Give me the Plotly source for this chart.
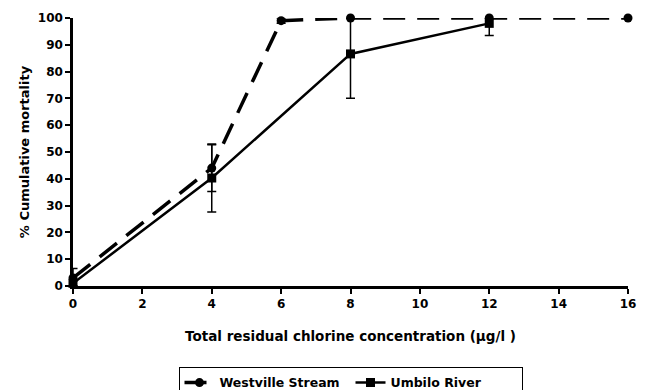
import plotly.graph_objects as go

concentration = [0, 4, 6, 8, 12, 16]
westville = [3, 44, 99, 100, 100, 100]
westville_err_plus = [3.5, 8.7, 1, 0, 0, 0]
westville_err_minus = [3, 8.7, 1, 0, 0, 0]

umbilo_x = [0, 4, 8, 12]
umbilo = [1, 40.3, 86.6, 98]
umbilo_err_plus = [1, 12.7, 13.4, 2]
umbilo_err_minus = [1, 12.7, 16.5, 4.5]

x_ticks = [0, 2, 4, 6, 8, 10, 12, 14, 16]
y_ticks = [0, 10, 20, 30, 40, 50, 60, 70, 80, 90, 100]

FONT = "DejaVu Sans"

fig = go.Figure()
fig.add_trace(go.Scatter(
    x=concentration, y=westville, name="Westville Stream",
    mode="lines+markers",
    line=dict(color="black", width=3.5, dash="22px,12px"),
    marker=dict(symbol="circle", size=9, color="black"),
    error_y=dict(type="data", array=westville_err_plus, arrayminus=westville_err_minus,
                 color="black", thickness=1.5, width=4.5),
    cliponaxis=False,
))
fig.add_trace(go.Scatter(
    x=umbilo_x, y=umbilo, name="Umbilo River",
    mode="lines+markers",
    line=dict(color="black", width=2.5),
    marker=dict(symbol="square", size=9, color="black"),
    error_y=dict(type="data", array=umbilo_err_plus, arrayminus=umbilo_err_minus,
                 color="black", thickness=1.5, width=4.5),
    cliponaxis=False,
))

fig.update_layout(
    width=640, height=382,
    margin=dict(l=65, r=20, t=10, b=104, autoexpand=False),
    paper_bgcolor="white", plot_bgcolor="white",
    font=dict(family=FONT, size=12, color="black", weight="bold"),
    showlegend=True,
    legend=dict(orientation="h", x=0.5, xanchor="center", y=-0.302, yanchor="top",
                bordercolor="black", borderwidth=1, bgcolor="white",
                font=dict(family=FONT, size=12.5, color="black", weight="bold"),
                entrywidth=126, entrywidthmode="pixels",
                tracegroupgap=0),
)
fig.update_xaxes(
    range=[0, 16], tickvals=x_ticks, ticktext=["<b>%d</b>" % v for v in x_ticks],
    automargin=False,
    showline=True, linecolor="black", linewidth=2.5, showgrid=False, zeroline=False,
    ticks="outside", ticklen=5, tickwidth=2, tickcolor="black",
    tickfont=dict(family=FONT, size=12),
    title=dict(text="<b>Total residual chlorine concentration (µg/l )</b>",
               font=dict(family=FONT, size=13.5), standoff=22),
)
fig.update_yaxes(
    range=[0, 100], tickvals=y_ticks, ticktext=["<b>%d</b>" % v for v in y_ticks],
    automargin=False,
    showline=True, linecolor="black", linewidth=2.5, showgrid=False, zeroline=False,
    ticks="outside", ticklen=5, tickwidth=2, tickcolor="black",
    tickfont=dict(family=FONT, size=12),
    title=dict(text="<b>% Cumulative mortality</b>",
               font=dict(family=FONT, size=13), standoff=6),
)

fig.write_html("out.html")
